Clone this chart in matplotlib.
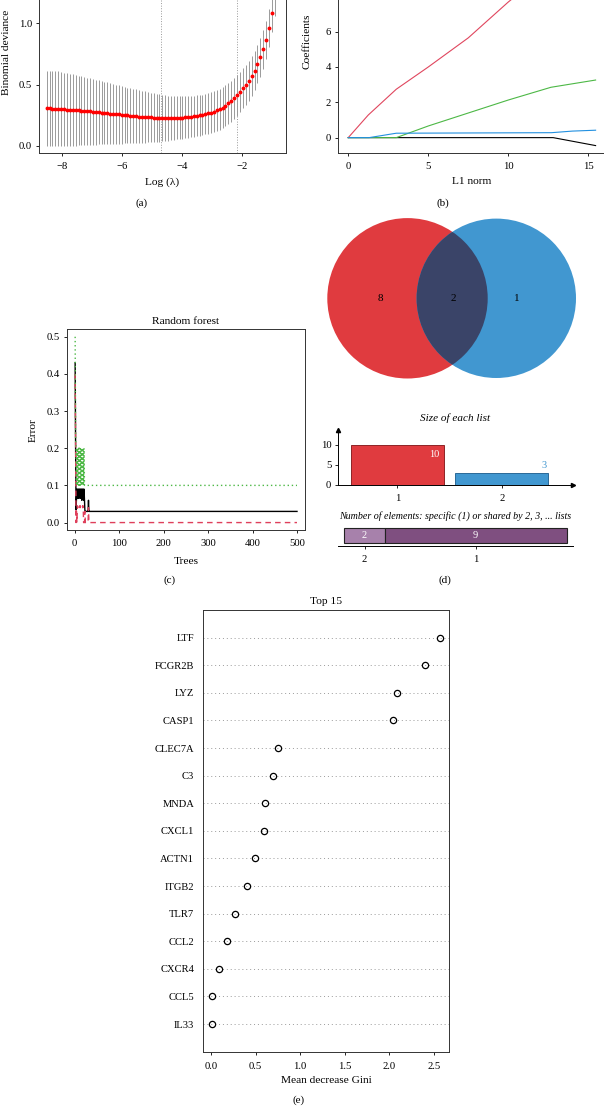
import matplotlib
matplotlib.use("Agg")
import matplotlib.pyplot as plt
from matplotlib.patches import Circle
from matplotlib.transforms import blended_transform_factory as blend

plt.rcParams['font.family'] = ['Liberation Serif', 'DejaVu Serif']
plt.rcParams['font.size'] = 7.7
plt.rcParams['axes.linewidth'] = 0.7
plt.rcParams['axes.edgecolor'] = '#333333'
plt.rcParams['xtick.major.size'] = 2.5
plt.rcParams['ytick.major.size'] = 2.5
plt.rcParams['xtick.major.width'] = 0.6
plt.rcParams['ytick.major.width'] = 0.6
plt.rcParams['xtick.major.pad'] = 4
plt.rcParams['ytick.major.pad'] = 2.5
plt.rcParams['xtick.labelsize'] = 7.7
plt.rcParams['ytick.labelsize'] = 7.7

# ---- (a) cross-validated binomial deviance ----
log_lambda = [-8.50, -8.40, -8.31, -8.21, -8.12, -8.02, -7.92, -7.83, -7.73, -7.63,
              -7.54, -7.44, -7.35, -7.25, -7.15, -7.06, -6.96, -6.86, -6.77, -6.67,
              -6.58, -6.48, -6.38, -6.29, -6.19, -6.10, -6.00, -5.90, -5.81, -5.71,
              -5.61, -5.52, -5.42, -5.33, -5.23, -5.13, -5.04, -4.94, -4.84, -4.75,
              -4.65, -4.56, -4.46, -4.36, -4.27, -4.17, -4.07, -3.98, -3.88, -3.79,
              -3.69, -3.59, -3.50, -3.40, -3.31, -3.21, -3.11, -3.02, -2.92, -2.82,
              -2.73, -2.63, -2.54, -2.44, -2.34, -2.25, -2.15, -2.05, -1.96, -1.86,
              -1.77, -1.67, -1.57, -1.48, -1.38, -1.29, -1.19, -1.09, -1.00, -0.90,
              -0.80]
cv_mean = [0.306, 0.306, 0.305, 0.304, 0.302, 0.300, 0.298, 0.297, 0.295, 0.293,
           0.291, 0.289, 0.287, 0.285, 0.283, 0.281, 0.279, 0.276, 0.274, 0.272,
           0.269, 0.267, 0.264, 0.262, 0.259, 0.257, 0.254, 0.252, 0.249, 0.247,
           0.245, 0.243, 0.240, 0.238, 0.236, 0.234, 0.232, 0.231, 0.229, 0.228,
           0.227, 0.227, 0.227, 0.227, 0.228, 0.229, 0.230, 0.231, 0.233, 0.235,
           0.238, 0.241, 0.245, 0.249, 0.254, 0.259, 0.265, 0.272, 0.280, 0.289,
           0.299, 0.312, 0.328, 0.347, 0.366, 0.388, 0.412, 0.439, 0.469, 0.498,
           0.531, 0.569, 0.612, 0.667, 0.721, 0.786, 0.862, 0.959, 1.079, 1.210,
           1.370]
cv_se = [0.306, 0.307, 0.307, 0.306, 0.305, 0.303, 0.300, 0.297, 0.294, 0.291,
         0.288, 0.284, 0.281, 0.277, 0.274, 0.271, 0.267, 0.264, 0.260, 0.257,
         0.253, 0.250, 0.247, 0.244, 0.240, 0.237, 0.234, 0.230, 0.227, 0.224,
         0.221, 0.217, 0.214, 0.211, 0.208, 0.204, 0.201, 0.198, 0.195, 0.192,
         0.189, 0.186, 0.183, 0.180, 0.178, 0.176, 0.174, 0.172, 0.170, 0.169,
         0.168, 0.167, 0.166, 0.166, 0.165, 0.165, 0.165, 0.165, 0.166, 0.166,
         0.167, 0.167, 0.168, 0.168, 0.167, 0.166, 0.165, 0.164, 0.163, 0.162,
         0.161, 0.160, 0.159, 0.158, 0.157, 0.156, 0.155, 0.153, 0.152, 0.152,
         0.155]
lambda_min = -4.69
lambda_1se = -2.15

# ---- (b) coefficient paths ----
l1_black = [0, 12.8, 15.45]
coef_black = [0, 0, -0.45]
l1_red = [0, 1.25, 3.0, 5.0, 7.5, 10.0, 12.5, 15.45]
coef_red = [0, 1.28, 2.74, 4.0, 5.65, 7.68, 9.5, 11.3]
l1_green = [0, 3.0, 5.0, 10.0, 12.66, 15.45]
coef_green = [0, 0, 0.66, 2.13, 2.85, 3.26]
l1_blue = [0, 1.3, 3.0, 12.7, 14.0, 15.45]
coef_blue = [0, 0, 0.25, 0.28, 0.37, 0.42]

# ---- (c) random forest error ----
rf_trees = list(range(1, 36)) + [500]
err_oob = [0.43, 0.21, 0.035, 0.065, 0.09, 0.065, 0.09, 0.065, 0.09, 0.08,
           0.09, 0.065, 0.09, 0.065, 0.09, 0.06, 0.09, 0.065, 0.09, 0.06,
           0.09, 0.06, 0.03, 0.03, 0.03, 0.03, 0.03, 0.03, 0.03, 0.03,
           0.06, 0.03, 0.03, 0.03, 0.03, 0.03]
err_red = [0.40, 0.22, 0.0, 0.03, 0.0, 0.045, 0.04, 0.045, 0.045, 0.04,
           0.045, 0.04, 0.045, 0.045, 0.04, 0.045, 0.045, 0.04, 0.045, 0.0,
           0.0, 0.0, 0.03, 0.0, 0.0, 0.0, 0.0, 0.0, 0.0, 0.0,
           0.04, 0.0, 0.0, 0.0, 0.0, 0.0]
err_green = [0.50, 0.23, 0.20, 0.10, 0.20, 0.10, 0.20, 0.10, 0.20, 0.10,
             0.20, 0.10, 0.20, 0.10, 0.20, 0.10, 0.20, 0.10, 0.20, 0.10,
             0.20, 0.10, 0.10, 0.10, 0.10, 0.10, 0.10, 0.10, 0.10, 0.10,
             0.10, 0.10, 0.10, 0.10, 0.10, 0.10]

# ---- (d) venn ----
venn_counts = [8, 2, 1]          # only list 1, shared, only list 2
list_names = ['1', '2']
list_sizes = [10, 3]
shared_labels = ['2', '1']       # shared by n lists
shared_counts = [2, 9]

# ---- (e) importance ----
genes = ['LTF', 'FCGR2B', 'LYZ', 'CASP1', 'CLEC7A', 'C3', 'MNDA', 'CXCL1',
         'ACTN1', 'ITGB2', 'TLR7', 'CCL2', 'CXCR4', 'CCL5', 'IL33']
gini = [2.576, 2.405, 2.086, 2.045, 0.749, 0.697, 0.610, 0.599,
        0.494, 0.408, 0.270, 0.176, 0.093, 0.011, 0.011]

W, H = 604, 1107
fig = plt.figure(figsize=(W / 100, H / 100), dpi=100)
ov = fig.add_axes([0, 0, 1, 1])
ov.set_xlim(0, W)
ov.set_ylim(H, 0)
ov.axis('off')


def px_axes(x0, y0, x1, y1):
    return fig.add_axes([x0 / W, 1 - y1 / H, (x1 - x0) / W, (y1 - y0) / H])


def xlab(ax, text, y, **kw):
    ax.set_xlabel(text, **kw)
    ax.xaxis.set_label_coords(0.5, y, transform=blend(ax.transAxes, ov.transData))
    ax.xaxis.label.set_va('center')


def ylab(ax, text, x, **kw):
    ax.set_ylabel(text, **kw)
    ax.yaxis.set_label_coords(x, 0.5, transform=blend(ov.transData, ax.transAxes))
    ax.yaxis.label.set_va('center')


LAB = 8.2

# (a)
axa = px_axes(39, -49, 286, 153)
axa.errorbar(log_lambda, cv_mean, yerr=cv_se, fmt='o', color='#FF0000', ms=2.8,
             mew=0, ecolor='#8a8a8a', elinewidth=0.6, capsize=1.6, capthick=0.6)
axa.axvline(lambda_min, ls=':', color='#999999', lw=0.7)
axa.axvline(lambda_1se, ls=':', color='#999999', lw=0.7)
axa.set_xlim(-8.76, -0.52)
axa.set_ylim(-0.057, 1.587)
axa.set_xticks([-8, -6, -4, -2])
axa.set_yticks([0, 0.5, 1.0])
axa.set_yticklabels(['0.0', '0.5', '1.0'])
xlab(axa, 'Log (λ)', 182, fontsize=LAB)
ylab(axa, 'Binomial deviance', 7, fontsize=LAB)

# (b)
axb = px_axes(338, -71, 606, 153)
axb.plot(l1_black, coef_black, color='black', lw=0.8)
axb.plot(l1_red, coef_red, color='#E0465E', lw=0.8)
axb.plot(l1_green, coef_green, color='#4DB846', lw=0.8)
axb.plot(l1_blue, coef_blue, color='#2290E0', lw=0.8)
axb.set_xlim(-0.64, 16.1)
axb.set_ylim(-0.87, 11.81)
axb.set_xticks([0, 5, 10, 15])
axb.set_yticks([0, 2, 4, 6])
xlab(axb, 'L1 norm', 182, fontsize=LAB)
ylab(axb, 'Coefficients', 307, fontsize=LAB)

# (c)
axc = px_axes(66.7, 329.3, 305, 530)
axc.plot(rf_trees, err_oob, color='black', lw=1.0)
axc.plot(rf_trees, err_red, color='#DF3F5B', lw=1.0, ls=(0, (4, 3)))
axc.plot(rf_trees, err_green, color='#4DB846', lw=1.0, ls=(0, (1, 2)))
axc.set_xlim(-18, 518)
axc.set_ylim(-0.02, 0.52)
axc.set_xticks([0, 100, 200, 300, 400, 500])
axc.set_yticks([0.0, 0.1, 0.2, 0.3, 0.4, 0.5])
axc.set_yticklabels(['0.0', '0.1', '0.2', '0.3', '0.4', '0.5'])
axc.set_title('Random forest', fontsize=LAB, pad=4)
xlab(axc, 'Trees', 561, fontsize=LAB)
ylab(axc, 'Error', 33, fontsize=LAB)

# (d) venn circles
red_c, blue_c, mid_c = '#E03B3F', '#4197D0', '#3A4468'
c1 = Circle((407.5, 298.3), 80.2, color=red_c, lw=0)
c2 = Circle((496.3, 298.3), 79.7, color=blue_c, lw=0)
ov.add_patch(c1)
ov.add_patch(c2)
c3 = Circle((496.3, 298.3), 79.7, color=mid_c, lw=0)
ov.add_patch(c3)
c3.set_clip_path(c1)
for xp, n in zip([380, 453.7, 517], venn_counts):
    ov.text(xp, 298.3, str(n), ha='center', va='center', fontsize=8)

ov.text(455, 418, 'Size of each list', ha='center', va='center', style='italic', fontsize=8)
axd = px_axes(338.3, 430, 573, 485)
axd.bar([1, 2], list_sizes, width=0.89, color=[red_c, blue_c],
        edgecolor=['#8E2426', '#2B6A98'], lw=0.7)
axd.set_xlim(0.436, 2.68)
axd.set_ylim(0, 13.75)
axd.set_xticks([1, 2])
axd.set_xticklabels(list_names)
axd.set_yticks([0, 5, 10])
for s in ['top', 'right']:
    axd.spines[s].set_visible(False)
axd.spines['left'].set_color('black')
axd.spines['bottom'].set_color('black')
axd.plot(1, 0, '>k', ms=3, transform=axd.transAxes, clip_on=False)
axd.plot(0, 1, '^k', ms=3, transform=axd.transAxes, clip_on=False)
axd.text(1.35, list_sizes[0] - 2.3, str(list_sizes[0]), color='white', ha='center', va='center', fontsize=7.5)
axd.text(2.40, list_sizes[1] + 1.8, str(list_sizes[1]), color=blue_c, ha='center', va='center', fontsize=7.5)

ov.text(455, 515.7, 'Number of elements: specific (1) or shared by 2, 3, ... lists',
        ha='center', va='center', style='italic', fontsize=7.2)
axs = px_axes(338.3, 524, 572.7, 545.7)
lefts = [0, shared_counts[0]]
axs.barh(0.484, shared_counts, left=lefts, height=0.69,
         color=['#A781AB', '#7F4F80'], edgecolor='#222222', lw=0.8)
axs.set_xlim(-0.3, 11.3)
axs.set_ylim(0, 1)
for l, c in zip(lefts, shared_counts):
    axs.text(l + c / 2, 0.484, str(c), color='white', ha='center', va='center', fontsize=7.5)
axs.set_xticks([l + c / 2 for l, c in zip(lefts, shared_counts)])
axs.set_xticklabels(shared_labels)
axs.set_yticks([])
for s in ['top', 'right', 'left']:
    axs.spines[s].set_visible(False)
axs.spines['bottom'].set_color('black')

# (e)
axe = px_axes(202.7, 610, 449.3, 1051.7)
ypos = list(range(len(genes), 0, -1))
for yv in ypos:
    axe.axhline(yv, color='#9a9a9a', lw=0.7, ls=(0, (1, 3)))
axe.plot(gini, ypos, 'o', mfc='none', mec='black', ms=4.5, mew=0.9)
axe.set_xlim(-0.093, 2.675)
axe.set_ylim(0, 16)
axe.set_yticks(ypos)
axe.set_yticklabels(genes, fontsize=7.6)
axe.tick_params(axis='y', length=0, pad=6)
axe.set_xticks([0, 0.5, 1.0, 1.5, 2.0, 2.5])
axe.set_xticklabels(['0.0', '0.5', '1.0', '1.5', '2.0', '2.5'])
axe.tick_params(axis='x', pad=5)
axe.set_title('Top 15', fontsize=LAB, pad=4)
xlab(axe, 'Mean decrease Gini', 1080.7, fontsize=LAB)

# panel letters
for (xp, yp, t) in [(142, 203, '(a)'), (442.7, 203, '(b)'), (170, 580, '(c)'),
                    (445, 580, '(d)'), (298.3, 1100, '(e)')]:
    ov.text(xp, yp, t, ha='center', va='center', fontsize=8)

fig.savefig('out.png', dpi=100)
